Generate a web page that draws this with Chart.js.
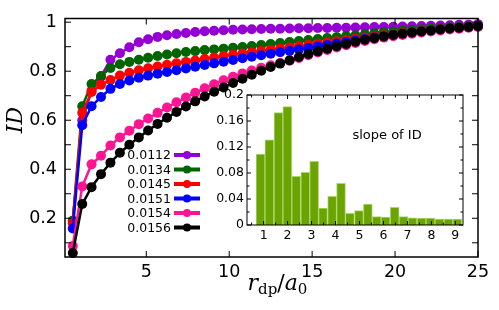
<!DOCTYPE html>
<html>
<head>
<meta charset="utf-8">
<script src="https://cdn.jsdelivr.net/npm/chart.js@4.4.1/dist/chart.umd.min.js"></script>
<style>
    html, body { margin: 0; padding: 0; background: #fff; }
    #wrap { position: relative; width: 499px; height: 310px; }
    #wrap canvas { position: absolute; left: 0; top: 0; }
</style>
</head>
<body>
<div id="wrap">
    <canvas id="chart-id" width="499" height="310"></canvas>
    <canvas id="chart-slope" width="499" height="310"></canvas>
</div>
<script>
// data

const rdp = [
    0.57, 1.14, 1.70, 2.27, 2.84, 3.41, 3.98, 4.55, 5.11, 5.68, 6.25,
    6.82, 7.39, 7.95, 8.52, 9.09, 9.66, 10.23, 10.80, 11.36, 11.93, 12.50,
    13.07, 13.64, 14.20, 14.77, 15.34, 15.91, 16.48, 17.05, 17.61, 18.18,
    18.75, 19.32, 19.89, 20.45, 21.02, 21.59, 22.16, 22.73, 23.30, 23.86,
    24.43, 25.00,
]

const id0112 = [
    0.19, 0.60, 0.72, 0.778, 0.847, 0.873, 0.898, 0.918, 0.93, 0.94, 0.947,
    0.952, 0.956, 0.96, 0.963, 0.965, 0.967, 0.969, 0.97, 0.971, 0.972, 0.973,
    0.973, 0.974, 0.975, 0.975, 0.976, 0.976, 0.977, 0.977, 0.978, 0.979,
    0.98, 0.98, 0.981, 0.982, 0.983, 0.984, 0.985, 0.986, 0.987, 0.989,
    0.99, 0.992,
]
const id0134 = [
    0.19, 0.657, 0.748, 0.78, 0.813, 0.828, 0.838, 0.847, 0.855, 0.862, 0.868,
    0.873, 0.878, 0.882, 0.886, 0.889, 0.892, 0.896, 0.899, 0.903, 0.907, 0.911,
    0.915, 0.919, 0.923, 0.927, 0.931, 0.935, 0.939, 0.943, 0.947, 0.951,
    0.955, 0.959, 0.962, 0.965, 0.968, 0.971, 0.974, 0.976, 0.979, 0.981,
    0.983, 0.986,
]
const id0145 = [
    0.18, 0.63, 0.715, 0.745, 0.764, 0.782, 0.794, 0.804, 0.812, 0.819, 0.826,
    0.832, 0.838, 0.844, 0.85, 0.856, 0.862, 0.867, 0.872, 0.877, 0.882, 0.887,
    0.892, 0.897, 0.902, 0.907, 0.912, 0.917, 0.922, 0.927, 0.932, 0.937,
    0.942, 0.947, 0.951, 0.955, 0.959, 0.963, 0.967, 0.971, 0.974, 0.977,
    0.98, 0.984,
]
const id0151 = [
    0.158, 0.58, 0.657, 0.695, 0.728, 0.748, 0.762, 0.773, 0.782, 0.79, 0.797,
    0.804, 0.811, 0.818, 0.825, 0.832, 0.839, 0.846, 0.853, 0.859, 0.865, 0.871,
    0.877, 0.883, 0.889, 0.895, 0.901, 0.907, 0.913, 0.919, 0.925, 0.931,
    0.937, 0.942, 0.947, 0.952, 0.957, 0.961, 0.965, 0.969, 0.973, 0.976,
    0.979, 0.983,
]
const id0154 = [
    0.087, 0.33, 0.42, 0.455, 0.497, 0.53, 0.557, 0.584, 0.607, 0.63, 0.652,
    0.673, 0.693, 0.712, 0.73, 0.747, 0.763, 0.777, 0.791, 0.803, 0.814, 0.824,
    0.833, 0.843, 0.854, 0.865, 0.876, 0.887, 0.897, 0.906, 0.915, 0.923,
    0.93, 0.937, 0.943, 0.948, 0.953, 0.958, 0.962, 0.966, 0.97, 0.973,
    0.977, 0.98,
]
const id0156 = [
    0.058, 0.258, 0.327, 0.38, 0.427, 0.467, 0.50, 0.53, 0.558, 0.585, 0.61,
    0.634, 0.656, 0.677, 0.697, 0.716, 0.734, 0.752, 0.769, 0.786, 0.802, 0.817,
    0.831, 0.845, 0.858, 0.87, 0.881, 0.892, 0.902, 0.911, 0.92, 0.928,
    0.935, 0.942, 0.948, 0.953, 0.958, 0.962, 0.966, 0.97, 0.974, 0.977,
    0.98, 0.984,
]

const seriesNames = ['0.0112', '0.0134', '0.0145', '0.0151', '0.0154', '0.0156']
const seriesValues = [id0112, id0134, id0145, id0151, id0154, id0156]
const seriesColors = ['#9400D3', '#006400', '#FF0000', '#0000FF', '#FF1493', '#000000']

const xTicks = [5, 10, 15, 20, 25]
const yTicks = [0.2, 0.4, 0.6, 0.8, 1]
const yMinorTicks = [0.1, 0.3, 0.5, 0.7, 0.9]

// inset: slope of ID
const slopeCenters = [
    0.87, 1.24, 1.62, 1.99, 2.36, 2.74, 3.11, 3.48, 3.86, 4.23, 4.60, 4.98,
    5.35, 5.72, 6.09, 6.47, 6.84, 7.21, 7.59, 7.96, 8.33, 8.71, 9.08,
]
const slopeValues = [
    0.109, 0.131, 0.173, 0.182, 0.075, 0.081, 0.098, 0.026, 0.044, 0.064, 0.018, 0.022,
    0.032, 0.013, 0.012, 0.027, 0.013, 0.011, 0.0105, 0.0105, 0.009, 0.009, 0.009,
]
const insetXTicks = [1, 2, 3, 4, 5, 6, 7, 8, 9]
const insetXMinor = [0.5, 1.5, 2.5, 3.5, 4.5, 5.5, 6.5, 7.5, 8.5]
const insetYTicks = [0, 0.04, 0.08, 0.12, 0.16, 0.2]
const insetYMinor = [0.02, 0.06, 0.1, 0.14, 0.18]

Chart.defaults.font.family = '"DejaVu Sans", sans-serif'
Chart.defaults.color = '#000'

const fmt = v => String(+v.toFixed(2))

// frame, inward ticks, legend and axis titles of the main plot
const mainFrame = {
    id: 'mainFrame',
    afterDraw(chart) {
        const { ctx, chartArea: a, scales: { x, y } } = chart
        ctx.save()
        ctx.strokeStyle = '#000'
        ctx.lineWidth = 1.5
        ctx.strokeRect(a.left, a.top, a.right - a.left, a.bottom - a.top)

        ctx.lineWidth = 1
        ctx.beginPath()
        xTicks.forEach(v => {
            const px = x.getPixelForValue(v)
            ctx.moveTo(px, a.bottom)
            ctx.lineTo(px, a.bottom - 6)
            ctx.moveTo(px, a.top)
            ctx.lineTo(px, a.top + 6)
        })
        yTicks.concat(yMinorTicks).forEach(v => {
            const py = y.getPixelForValue(v)
            ctx.moveTo(a.left, py)
            ctx.lineTo(a.left + 6, py)
            ctx.moveTo(a.right, py)
            ctx.lineTo(a.right - 6, py)
        })
        ctx.stroke()

        // legend: label, then line with marker
        ctx.font = '12.5px "DejaVu Sans"'
        ctx.textAlign = 'right'
        ctx.textBaseline = 'middle'
        seriesNames.forEach((name, i) => {
            const ly = 155 + i * 14.5
            ctx.fillStyle = '#000'
            ctx.fillText(name, 171, ly + 1)
            ctx.strokeStyle = seriesColors[i]
            ctx.lineWidth = 4
            ctx.beginPath()
            ctx.moveTo(174, ly)
            ctx.lineTo(200, ly)
            ctx.stroke()
            ctx.fillStyle = seriesColors[i]
            ctx.beginPath()
            ctx.arc(187, ly, 4, 0, Math.PI * 2)
            ctx.fill()
        })

        // y title
        ctx.fillStyle = '#000'
        ctx.save()
        ctx.translate(22, 120)
        ctx.rotate(-Math.PI / 2)
        ctx.textAlign = 'center'
        ctx.textBaseline = 'alphabetic'
        ctx.font = 'italic 22px "DejaVu Serif"'
        ctx.fillText('ID', 0, 0)
        ctx.restore()

        // x title r_dp / a_0
        const parts = [
            ['r', 'italic 22px "DejaVu Serif"', 0],
            ['dp', '15px "DejaVu Serif"', 4],
            ['/', '22px "DejaVu Serif"', 0],
            ['a', 'italic 22px "DejaVu Serif"', 0],
            ['0', '15px "DejaVu Serif"', 4],
        ]
        let total = 0
        parts.forEach(p => {
            ctx.font = p[1]
            total += ctx.measureText(p[0]).width
        })
        let cx = (a.left + a.right) / 2 - total / 2 + 6
        ctx.textAlign = 'left'
        ctx.textBaseline = 'alphabetic'
        parts.forEach(p => {
            ctx.font = p[1]
            ctx.fillText(p[0], cx, 290 + p[2])
            cx += ctx.measureText(p[0]).width
        })
        ctx.restore()
    },
}

const mainCtx = document.getElementById('chart-id').getContext('2d')
const chartId = new Chart(mainCtx, {
    type: 'line',
    data: {
        datasets: seriesValues.map((vals, i) => ({
            label: seriesNames[i],
            data: vals.map((v, k) => ({ x: rdp[k], y: v })),
            borderColor: seriesColors[i],
            backgroundColor: seriesColors[i],
            order: seriesValues.length - i,
            clip: false,
        })),
    },
    options: {
        responsive: false,
        animation: false,
        events: [],
        layout: { padding: { top: 15, right: 21, left: 0, bottom: 0 } },
        elements: {
            point: { radius: 5, borderWidth: 0 },
            line: { borderWidth: 2.5, tension: 0 },
        },
        plugins: {
            legend: { display: false },
            tooltip: { enabled: false },
        },
        scales: {
            x: {
                type: 'linear',
                min: 0.1,
                max: 25,
                grid: { display: false, drawTicks: false },
                border: { display: false },
                afterBuildTicks: s => { s.ticks = xTicks.map(v => ({ value: v })) },
                afterFit: s => { s.height = 53 },
                ticks: {
                    font: { size: 17.5 },
                    padding: 5,
                    maxRotation: 0,
                    autoSkip: false,
                    callback: v => fmt(v),
                },
            },
            y: {
                type: 'linear',
                min: 0.042,
                max: 1.015,
                grid: { display: false, drawTicks: false },
                border: { display: false },
                afterBuildTicks: s => { s.ticks = yTicks.map(v => ({ value: v })) },
                afterFit: s => { s.width = 65 },
                ticks: {
                    font: { size: 17.5 },
                    padding: 8,
                    autoSkip: false,
                    callback: v => fmt(v),
                },
            },
        },
    },
    plugins: [mainFrame],
})

// white box, frame, ticks and caption of the inset
const insetFrame = {
    id: 'insetFrame',
    beforeDraw(chart) {
        const { ctx, chartArea: a } = chart
        ctx.save()
        ctx.fillStyle = '#fff'
        ctx.fillRect(a.left, a.top, a.right - a.left, a.bottom - a.top)
        ctx.restore()
    },
    afterDraw(chart) {
        const { ctx, chartArea: a, scales: { x, y } } = chart
        ctx.save()
        ctx.strokeStyle = '#000'
        ctx.lineWidth = 1
        ctx.strokeRect(a.left, a.top, a.right - a.left, a.bottom - a.top)

        const tickX = (list, len) => list.forEach(v => {
            const px = x.getPixelForValue(v)
            ctx.moveTo(px, a.bottom)
            ctx.lineTo(px, a.bottom - len)
            ctx.moveTo(px, a.top)
            ctx.lineTo(px, a.top + len)
        })
        const tickY = (list, len) => list.forEach(v => {
            const py = y.getPixelForValue(v)
            ctx.moveTo(a.left, py)
            ctx.lineTo(a.left + len, py)
            ctx.moveTo(a.right, py)
            ctx.lineTo(a.right - len, py)
        })
        ctx.beginPath()
        tickX(insetXTicks, 4)
        tickX(insetXMinor, 2.5)
        tickY(insetYTicks, 4)
        tickY(insetYMinor, 2.5)
        ctx.stroke()

        ctx.fillStyle = '#000'
        ctx.font = '13px "DejaVu Sans"'
        ctx.textAlign = 'center'
        ctx.textBaseline = 'middle'
        ctx.fillText('slope of ID', x.getPixelForValue(6.15), y.getPixelForValue(0.137))
        ctx.restore()
    },
}

const slopeCtx = document.getElementById('chart-slope').getContext('2d')
const chartSlope = new Chart(slopeCtx, {
    type: 'bar',
    data: {
        datasets: [
            {
                label: 'slope of ID',
                data: slopeValues.map((v, i) => ({ x: slopeCenters[i], y: v })),
                backgroundColor: '#6ba300',
                borderColor: '#a8d86e',
                borderWidth: 1,
                barPercentage: 1,
                categoryPercentage: 1,
            },
        ],
    },
    options: {
        responsive: false,
        animation: false,
        events: [],
        layout: { padding: { top: 95, right: 36, left: 0, bottom: 0 } },
        plugins: {
            legend: { display: false },
            tooltip: { enabled: false },
        },
        scales: {
            x: {
                type: 'linear',
                offset: false,
                min: 0.307,
                max: 9.32,
                grid: { display: false, drawTicks: false, offset: false },
                border: { display: false },
                afterBuildTicks: s => { s.ticks = insetXTicks.map(v => ({ value: v })) },
                afterFit: s => { s.height = 85 },
                ticks: { font: { size: 12.5 }, padding: 3, maxRotation: 0, autoSkip: false },
            },
            y: {
                type: 'linear',
                min: 0,
                max: 0.2,
                grid: { display: false, drawTicks: false },
                border: { display: false },
                afterBuildTicks: s => { s.ticks = insetYTicks.map(v => ({ value: v })) },
                afterFit: s => { s.width = 247 },
                ticks: { font: { size: 12.5 }, padding: 3, autoSkip: false, callback: v => fmt(v) },
            },
        },
    },
    plugins: [insetFrame],
})
</script>
</body>
</html>
